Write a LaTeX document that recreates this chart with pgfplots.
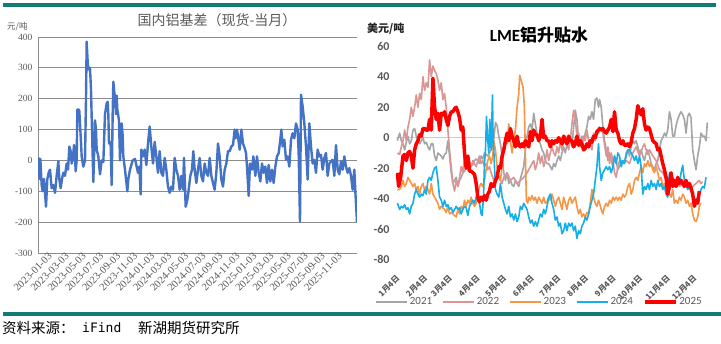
\documentclass[border=0pt]{standalone}
\usepackage{pgfplots}
\pgfplotsset{compat=1.18}
\usepackage{fontspec}
\setmainfont{Liberation Serif}
\newfontfamily\cjk{Noto Sans CJK SC}
\newfontfamily\carlito{Carlito}
\newfontfamily\monof{DejaVu Sans Mono}
\definecolor{tealbar}{RGB}{20,122,118}
\definecolor{lblue}{RGB}{68,114,196}
\definecolor{gridg}{RGB}{140,140,140}
\definecolor{txtg}{RGB}{89,89,89}
\definecolor{c21}{RGB}{165,165,165}
\definecolor{c22}{RGB}{217,150,148}
\definecolor{c23}{RGB}{247,150,70}
\definecolor{c24}{RGB}{20,174,232}
\definecolor{c25}{RGB}{255,0,0}
\begin{document}
\begin{tikzpicture}
\useasboundingbox (0pt,0pt) rectangle (721pt,344pt);
\fill[white] (0pt,0pt) rectangle (721pt,344pt);
\draw[tealbar, line width=3.5pt] (3pt,339pt) -- (716pt,339pt);
\draw[tealbar, line width=4pt] (3pt,30pt) -- (721pt,30pt);
\node[anchor=west, inner sep=0pt, font=\cjk\fontsize{14.5}{15}\selectfont] at (2pt,16pt) {资料来源：};
\node[anchor=west, inner sep=0pt, font=\monof\fontsize{13}{14}\selectfont] at (82pt,16pt) {iFind};
\node[anchor=west, inner sep=0pt, font=\cjk\fontsize{14.5}{15}\selectfont] at (138pt,16pt) {新湖期货研究所};
% left titles
\node[inner sep=0pt, text=txtg, font=\cjk\fontsize{14}{14}\selectfont] at (217pt,324pt) {国内铝基差（现货-当月）};
\node[anchor=west, inner sep=0pt, text=txtg, font=\cjk\fontsize{8.5}{9}\selectfont] at (7pt,317pt) {元/吨};
% right titles
\node[inner sep=0pt, font=\fontsize{17}{18}\selectfont] at (539pt,309pt) {{\carlito\bfseries LME}{\cjk\bfseries 铝升贴水}};
\node[anchor=west, inner sep=0pt, text=black!85, font=\cjk\bfseries\fontsize{11}{12}\selectfont] at (367pt,315pt) {美元/吨};

\begin{axis}[
  at={(38pt,91pt)}, anchor=south west, scale only axis,
  width=319pt, height=216pt,
  xmin=114, xmax=1071, ymin=-300, ymax=400,
  axis lines*=left,
  axis line style={gridg, line width=0.8pt},
  ytick={-300,-200,-100,0,100,200,300,400},
  yticklabels={-300,-200,-100,0,100,200,300,400},
  ymajorgrids, major grid style={gridg, line width=0.8pt},
  major tick length=0pt,
  yticklabel style={font=\fontsize{9.5}{10}\selectfont, text=txtg, xshift=-2pt},
  xtick={156,207,258,310,361,412,463,514,565,617,668,719,770,821,873,924,975,1026},
  xticklabels={2023-01-03,2023-03-03,2023-05-03,2023-07-03,2023-09-03,2023-11-03,2024-01-03,2024-03-03,2024-05-03,2024-07-03,2024-09-03,2024-11-03,2025-01-03,2025-03-03,2025-05-03,2025-07-03,2025-09-03,2025-11-03},
  xticklabel style={rotate=45, anchor=east, font=\fontsize{10.5}{10.5}\selectfont, text=txtg, xshift=1pt},
]
\addplot[lblue, line width=2.4pt, line join=round] coordinates {
(115,10)(119,-60)(121,5)(125,-80)(128,-100)(132,-60)(138,-150)(142,-60)(146,-40)(150,-30)(155,-90)(160,-80)(165,-105)(170,-50)(175,-3)(178,-60)(182,-90)(186,-60)(190,-40)(195,-50)(200,-10)(204,-30)(208,45)(212,30)(215,-10)(219,10)(222,50)(225,10)(227,-35)(230,0)(232,165)(236,165)(238,160)(240,120)(243,60)(245,13)(250,-20)(255,0)(258,200)(260,385)(263,320)(265,295)(268,300)(270,300)(273,230)(276,100)(280,-70)(285,130)(288,100)(290,35)(295,13)(300,-45)(305,0)(310,-5)(315,150)(318,170)(320,185)(323,190)(325,150)(327,55)(330,60)(332,50)(335,-80)(338,150)(340,255)(343,220)(345,205)(348,150)(350,210)(352,165)(357,130)(360,0)(365,120)(368,80)(370,13)(375,-30)(382,-100)(385,-60)(390,-30)(398,0)(405,5)(412,-30)
(414,-40)(418,-20)(422,-110)(424,35)(429,13)(434,35)(439,-15)(444,55)(449,110)(454,45)(459,-10)(464,60)(469,13)(474,-40)(479,30)(484,-40)(489,-50)(494,8)(499,-30)(504,-85)(509,-105)(514,-85)(519,-95)(524,8)(529,-30)(534,-50)(539,-95)(544,-50)(549,-95)(552,8)(557,-150)(562,-128)(566,-95)(571,-50)(576,-30)(580,30)(584,-30)(589,-73)(594,-30)(599,8)(604,-50)(609,-68)(614,-10)(619,-40)(624,-50)(629,8)(634,-50)(639,-73)(644,-95)(649,-40)(654,55)(659,13)(664,-62)(669,-85)(674,-30)(679,-10)(684,30)(689,30)(694,45)(699,50)(704,100)(707,72)(711,100)(714,78)(719,35)(724,100)(729,55)(734,40)
(738,24)(741,-20)(746,-115)(750,-10)(756,-30)(760,13)(766,-50)(771,13)(776,-40)(781,-68)(786,-10)(791,-40)(796,-20)(801,-73)(806,-15)(811,-68)(816,-30)(821,-73)(826,-20)(831,13)(836,24)(841,67)(844,100)(848,45)(853,67)(858,2)(863,13)(868,-20)(873,67)(878,88)(883,72)(888,120)(893,100)(896,24)(900,-198)(903,213)(908,175)(913,120)(918,45)(923,-62)(928,120)(933,45)(938,-10)(943,2)(948,-40)(953,35)(958,13)(963,18)(968,-30)(973,8)(978,24)(983,-50)(988,-10)(993,-3)(998,2)(1003,-50)(1008,50)(1013,-30)(1018,-45)(1023,-3)(1028,-30)(1033,13)(1038,-20)(1043,-40)(1048,-25)(1053,-50)(1058,-95)(1063,-30)(1066,-100)(1071,-200)
};
\end{axis}

\begin{axis}[
  at={(396pt,84.3pt)}, anchor=south west, scale only axis,
  width=314pt, height=213.5pt,
  xmin=1188, xmax=2132, ymin=-80, ymax=60,
  axis line style={draw=none},
  major tick length=0pt,
  ytick={-80,-60,-40,-20,0,20,40,60},
  yticklabels={-80,-60,-40,-20,0,20,40,60},
  yticklabel style={font=\carlito\bfseries\fontsize{12}{12}\selectfont, text=txtg, xshift=-3pt},
  extra y ticks={0}, extra y tick labels={},
  extra y tick style={ymajorgrids, major grid style={black!20, line width=0.8pt}},
  xtick={1191,1274,1349,1432,1512,1595,1675,1758,1841,1921,2004,2084},
  xticklabels={1月4日,2月4日,3月4日,4月4日,5月4日,6月4日,7月4日,8月4日,9月4日,10月4日,11月4日,12月4日},
  xticklabel style={rotate=45, anchor=east, font=\cjk\bfseries\fontsize{8}{9}\selectfont, text=txtg, xshift=-8pt, yshift=-13pt},
  legend columns=5,
  legend style={at={(0.457,-0.198)}, anchor=center, draw=none, fill=none,
    font=\carlito\fontsize{11}{12}\selectfont, text=txtg,
    /tikz/every even column/.append style={column sep=8pt}},
  legend image code/.code={\draw[#1] (0pt,0pt) -- (31pt,0pt);},
]
\addplot[c21, line width=1.6pt, line join=round] coordinates {
(1192,-2)(1199,3)(1204,-2)(1209,-4)(1214,-8)(1219,-3)(1224,1)(1229,-4)(1234,-2)(1239,5)(1244,6)(1249,1)(1254,-2)(1259,-4)(1264,-2)(1269,0)(1274,-4)(1279,-3)(1284,-6)(1289,-8)(1294,-4)(1299,-4)(1304,-12)(1309,-15)(1314,-10)(1319,-11)(1324,-12)(1329,-14)(1334,-11)(1339,-10)(1344,-2)(1349,-12)(1354,-23)(1359,-30)(1364,-28)(1369,-26)(1374,-32)(1379,-28)(1384,-26)(1389,-23)(1394,-22)(1399,-19)(1404,-21)(1409,-22)(1414,-17)(1419,-18)(1424,-15)(1429,-14)(1434,-15)(1439,-17)(1444,-12)(1449,-14)(1454,-10)(1459,-11)(1464,-12)(1469,-10)(1474,-8)(1479,-6)
(1482,-1)(1487,10)(1492,8)(1497,1)(1502,-4)(1507,-12)(1512,-23)(1517,-28)(1522,-23)(1527,-30)(1532,-28)(1537,-31)(1542,-32)(1547,-28)(1552,-30)(1557,-32)(1562,-27)(1567,-23)(1572,-19)(1577,-8)(1582,1)(1587,7)(1592,9)(1597,5)(1602,16)(1607,9)(1612,3)(1617,-2)(1622,-4)(1627,-8)(1632,-10)(1637,-15)(1642,-17)(1647,-17)(1652,-19)(1657,-21)(1662,-17)(1667,-19)(1672,-15)(1677,-12)(1682,-15)(1687,-10)(1692,-6)(1697,-10)(1702,-4)(1707,-2)(1712,1)(1717,-6)(1722,7)(1727,18)(1732,12)(1737,-2)(1742,-6)(1747,1)(1752,-2)(1757,3)(1762,7)(1767,14)(1772,12)(1777,17)(1782,12)(1787,25)(1792,26)(1797,20)
(1800,25)(1805,20)(1810,7)(1815,-2)(1820,-8)(1825,-15)(1830,-10)(1835,-15)(1840,-19)(1845,-12)(1850,-15)(1855,-21)(1860,-19)(1865,-15)(1870,-17)(1875,-16)(1880,-10)(1885,-8)(1890,-12)(1895,-6)(1900,-2)(1905,-4)(1910,-2)(1915,-6)(1920,-10)(1925,-8)(1930,-12)(1935,-15)(1940,-10)(1945,-8)(1950,-12)(1955,-17)(1960,-19)(1965,-21)(1970,-17)(1975,-15)(1980,-8)(1985,-2)(1990,0)(1995,3)(2000,1)(2005,5)(2010,17)(2015,12)(2020,1)(2025,1)(2030,8)(2035,12)(2040,15)(2045,17)(2050,15)(2055,12)(2060,3)(2065,14)(2070,16)(2075,13)(2080,-8)(2085,-15)(2090,-21)(2095,-12)(2100,-6)(2105,3)(2110,1)(2115,1)(2120,-2)(2124,10)
};
\addlegendentry{2021}
\addplot[c22, line width=1.6pt, line join=round] coordinates {
(1192,-10)(1199,-11)(1204,-6)(1209,-2)(1214,5)(1219,-2)(1224,7)(1229,12)(1234,20)(1239,14)(1244,20)(1249,28)(1254,20)(1259,29)(1264,25)(1269,40)(1274,31)(1279,36)(1284,33)(1289,51)(1294,40)(1299,47)(1304,44)(1309,42)(1314,38)(1319,31)(1324,36)(1329,25)(1334,29)(1339,20)(1344,5)(1349,-8)(1354,-19)(1359,-30)(1364,-35)(1369,-28)(1374,-32)(1379,-26)(1384,-19)(1389,-23)(1394,-12)(1399,-17)(1404,-21)(1409,-15)(1414,-19)(1419,-15)(1424,-17)(1429,-19)(1434,-15)(1439,-12)(1444,-17)(1449,-15)(1454,-19)(1459,-17)(1464,-21)(1469,-19)(1474,-23)(1479,-26)
(1482,-28)(1492,-23)(1502,-28)(1507,-30)(1512,-26)(1522,-23)(1532,-28)(1542,-26)(1552,-30)(1562,-28)(1572,-26)(1582,-23)(1592,-19)(1602,-15)(1607,-21)(1612,-17)(1617,-10)(1622,-17)(1627,-12)(1632,-19)(1637,-15)(1642,-8)(1647,-15)(1652,-10)(1657,-6)(1662,-10)(1667,-12)(1672,-6)(1677,-10)(1682,-2)(1687,-8)(1692,-2)(1697,1)(1702,-4)(1707,-8)(1712,-2)(1717,9)(1722,18)(1727,12)(1732,1)(1737,3)(1742,-2)(1747,-6)(1752,1)(1757,-2)(1762,5)(1767,-2)(1772,-4)(1777,-8)(1782,3)(1787,-2)(1792,5)(1797,3)
(1800,7)(1810,3)(1820,-12)(1825,-6)(1830,-17)(1835,-10)(1840,-15)(1845,-23)(1850,-26)(1855,-19)(1860,-15)(1870,-17)(1880,-15)(1890,-17)(1900,-10)(1910,-6)(1920,-12)(1930,-6)(1935,-4)(1940,-8)(1945,-11)(1950,-8)(1960,-12)(1970,-15)(1980,-21)(1990,-23)(2000,-28)(2010,-26)(2020,-30)(2030,-28)(2040,-32)(2050,-30)(2060,-32)(2070,-34)(2080,-32)(2090,-30)(2100,-28)(2105,-30)(2110,-29)
};
\addlegendentry{2022}
\addplot[c23, line width=1.6pt, line join=round] coordinates {
(1192,-34)(1199,-34)(1204,-32)(1209,-28)(1214,-32)(1219,-30)(1224,-26)(1229,-28)(1234,-30)(1239,-32)(1244,-30)(1249,-34)(1254,-32)(1259,-37)(1264,-32)(1269,-30)(1274,-34)(1279,-32)(1284,-34)(1289,-37)(1294,-30)(1299,-37)(1304,-39)(1309,-41)(1314,-43)(1319,-47)(1324,-45)(1329,-46)(1334,-47)(1339,-49)(1344,-45)(1349,-50)(1354,-49)(1359,-50)(1364,-51)(1369,-52)(1374,-47)(1379,-50)(1384,-45)(1389,-47)(1394,-41)(1399,-45)(1404,-41)(1409,-43)(1414,-39)(1419,-43)(1424,-45)(1429,-43)(1434,-37)(1439,-32)(1444,-30)(1449,-32)(1454,-28)(1459,-21)(1464,-15)(1469,-12)(1474,-17)(1479,-12)
(1482,-2)(1487,-8)(1492,-19)(1497,-26)(1502,-28)(1507,-19)(1512,-8)(1517,-2)(1522,-4)(1527,9)(1532,-2)(1537,-10)(1542,-2)(1547,5)(1552,20)(1557,29)(1560,41)(1564,38)(1570,33)(1574,20)(1577,-12)(1580,-41)(1584,-43)(1587,-39)(1592,-41)(1597,-38)(1602,-41)(1607,-39)(1612,-43)(1617,-39)(1622,-41)(1627,-43)(1632,-39)(1637,-43)(1642,-42)(1647,-39)(1652,-41)(1657,-37)(1662,-41)(1667,-45)(1672,-41)(1677,-39)(1682,-43)(1687,-47)(1692,-39)(1697,-43)(1702,-47)(1707,-41)(1712,-39)(1717,-43)(1722,-41)(1727,-39)(1732,-45)(1737,-50)(1742,-47)(1747,-52)(1752,-50)(1757,-52)(1762,-49)(1767,-50)(1772,-43)(1777,-34)(1782,-39)(1787,-43)(1792,-45)(1797,-41)
(1800,-43)(1805,-47)(1810,-50)(1815,-45)(1820,-43)(1825,-45)(1830,-41)(1835,-43)(1840,-39)(1845,-41)(1850,-39)(1855,-41)(1860,-39)(1865,-41)(1870,-37)(1875,-39)(1880,-37)(1885,-32)(1890,-30)(1895,-37)(1900,-34)(1905,-28)(1910,-26)(1915,-28)(1920,-23)(1925,-19)(1930,-23)(1935,-17)(1940,-19)(1945,-15)(1950,-19)(1955,-17)(1960,-21)(1965,-23)(1970,-19)(1975,-23)(1980,-28)(1985,-26)(1990,-32)(1995,-30)(2000,-34)(2005,-32)(2010,-37)(2015,-39)(2020,-34)(2025,-43)(2030,-41)(2035,-43)(2040,-39)(2045,-41)(2050,-37)(2055,-39)(2060,-43)(2065,-41)(2070,-45)(2075,-43)(2080,-50)(2085,-54)(2090,-55)(2095,-52)(2100,-45)(2105,-43)
};
\addlegendentry{2023}
\addplot[c24, line width=1.6pt, line join=round] coordinates {
(1192,-43)(1196,-45)(1199,-47)(1204,-45)(1209,-46)(1214,-44)(1219,-47)(1224,-46)(1229,-50)(1234,-45)(1239,-43)(1244,-37)(1249,-34)(1254,-37)(1259,-39)(1264,-37)(1269,-38)(1274,-34)(1279,-37)(1284,-28)(1289,-26)(1294,-28)(1299,-23)(1304,-20)(1309,-19)(1314,-28)(1319,-39)(1324,-41)(1329,-45)(1334,-41)(1339,-45)(1344,-44)(1349,-47)(1354,-46)(1359,-49)(1364,-47)(1369,-45)(1374,-47)(1379,-46)(1384,-50)(1389,-47)(1394,-45)(1399,-46)(1404,-51)(1409,-45)(1414,-43)(1419,-41)(1424,-43)(1429,-39)(1434,-41)(1439,-43)(1444,-50)(1447,-51)(1451,-39)(1454,-17)(1457,-8)(1460,14)(1464,-2)(1467,-10)(1470,12)(1474,-8)(1478,28)(1480,-2)
(1482,-8)(1487,-34)(1492,-37)(1497,-39)(1502,-30)(1507,-39)(1512,-43)(1517,-47)(1522,-50)(1527,-45)(1532,-52)(1537,-50)(1542,-54)(1547,-50)(1552,-55)(1557,-52)(1562,-45)(1567,-47)(1572,-43)(1577,-45)(1582,-47)(1587,-52)(1592,-56)(1597,-54)(1602,-58)(1607,-55)(1612,-58)(1617,-54)(1622,-50)(1627,-52)(1632,-47)(1637,-50)(1642,-45)(1647,-39)(1652,-37)(1657,-43)(1662,-47)(1667,-54)(1672,-52)(1677,-58)(1682,-56)(1687,-63)(1692,-61)(1697,-56)(1702,-61)(1707,-56)(1712,-58)(1717,-56)(1722,-61)(1727,-58)(1732,-66)(1737,-61)(1742,-63)(1747,-58)(1752,-56)(1757,-52)(1762,-54)(1767,-50)(1772,-45)(1777,-41)(1782,-37)(1787,-28)(1792,-19)(1797,-4)
(1800,-19)(1805,-28)(1810,-23)(1815,-21)(1820,-19)(1825,-21)(1830,-19)(1835,-23)(1840,-19)(1845,-12)(1850,-17)(1855,-10)(1860,-12)(1865,-19)(1870,-15)(1875,-17)(1880,-12)(1885,-8)(1890,-8)(1895,-10)(1900,-12)(1905,-15)(1910,-12)(1915,-17)(1920,-12)(1925,-19)(1930,-37)(1935,-32)(1940,-34)(1945,-30)(1950,-34)(1955,-28)(1960,-32)(1965,-30)(1970,-34)(1975,-28)(1980,-32)(1985,-30)(1990,-34)(1995,-32)(2000,-37)(2005,-39)(2010,-23)(2015,-28)(2020,-26)(2025,-30)(2030,-32)(2035,-28)(2040,-30)(2045,-23)(2050,-18)(2055,-28)(2060,-30)(2065,-34)(2070,-30)(2075,-34)(2080,-39)(2085,-43)(2090,-41)(2095,-39)(2100,-37)(2105,-34)(2110,-32)(2115,-33)(2120,-26)
};
\addlegendentry{2024}
\addplot[c25, line width=3.5pt, line join=round] coordinates {
(1192,-23)(1196,-32)(1202,-26)(1209,-12)(1214,-11)(1219,-15)(1224,-10)(1229,-9)(1234,-12)(1239,-20)(1244,-8)(1249,-4)(1254,-2)(1259,2)(1264,1)(1269,6)(1274,6)(1279,5)(1284,5)(1289,12)(1294,5)(1299,39)(1304,20)(1309,12)(1314,16)(1319,5)(1324,16)(1329,15)(1334,17)(1339,12)(1344,8)(1349,14)(1354,17)(1359,17)(1364,19)(1369,20)(1374,17)(1379,13)(1384,5)(1389,7)(1394,-10)(1399,-20)(1404,-12)(1409,-22)(1414,-22)(1419,-23)(1424,-24)(1429,-30)(1434,-39)(1439,-42)(1444,-39)(1449,-41)(1454,-38)(1459,-41)(1464,-37)(1469,-35)(1474,-30)(1479,-32)
(1482,-32)(1487,-28)(1492,-26)(1497,-19)(1502,-20)(1507,-12)(1512,-8)(1517,-2)(1522,3)(1527,-2)(1532,6)(1537,1)(1542,-2)(1547,-6)(1552,1)(1557,-5)(1562,-6)(1567,-4)(1572,-6)(1577,-2)(1582,-4)(1587,-6)(1592,4)(1597,-2)(1602,5)(1607,2)(1612,2)(1617,-2)(1622,1)(1627,12)(1632,0)(1637,1)(1642,-2)(1647,-2)(1652,-6)(1657,-2)(1662,-4)(1667,-2)(1672,-3)(1677,0)(1682,-2)(1687,-4)(1692,1)(1697,-2)(1702,-4)(1707,1)(1712,-2)(1717,-2)(1722,-6)(1727,-4)(1732,1)(1737,-5)(1742,-2)(1747,-4)(1752,-8)(1757,-7)(1762,-4)(1767,-6)(1772,-2)(1777,-3)(1782,1)(1787,0)(1792,4)(1797,5)
(1800,6)(1805,5)(1810,6)(1815,4)(1820,3)(1825,5)(1830,7)(1835,12)(1840,4)(1845,17)(1850,5)(1855,3)(1860,-2)(1865,-4)(1870,-2)(1875,-5)(1880,-5)(1885,-4)(1890,-6)(1895,-3)(1900,3)(1905,6)(1910,12)(1915,21)(1920,17)(1925,15)(1930,19)(1935,9)(1940,5)(1945,7)(1950,6)(1955,2)(1960,-2)(1965,-3)(1970,-4)(1975,-8)(1980,-7)(1985,-12)(1990,-17)(1995,-21)(2000,-26)(2005,-37)(2010,-32)(2015,-23)(2020,-32)(2025,-28)(2030,-32)(2035,-26)(2040,-30)(2045,-28)(2050,-30)(2055,-32)(2060,-28)(2065,-32)(2070,-30)(2075,-33)(2080,-37)(2085,-45)(2090,-41)(2095,-43)(2100,-35)
};
\addlegendentry{2025}
\end{axis}
\end{tikzpicture}
\end{document}
